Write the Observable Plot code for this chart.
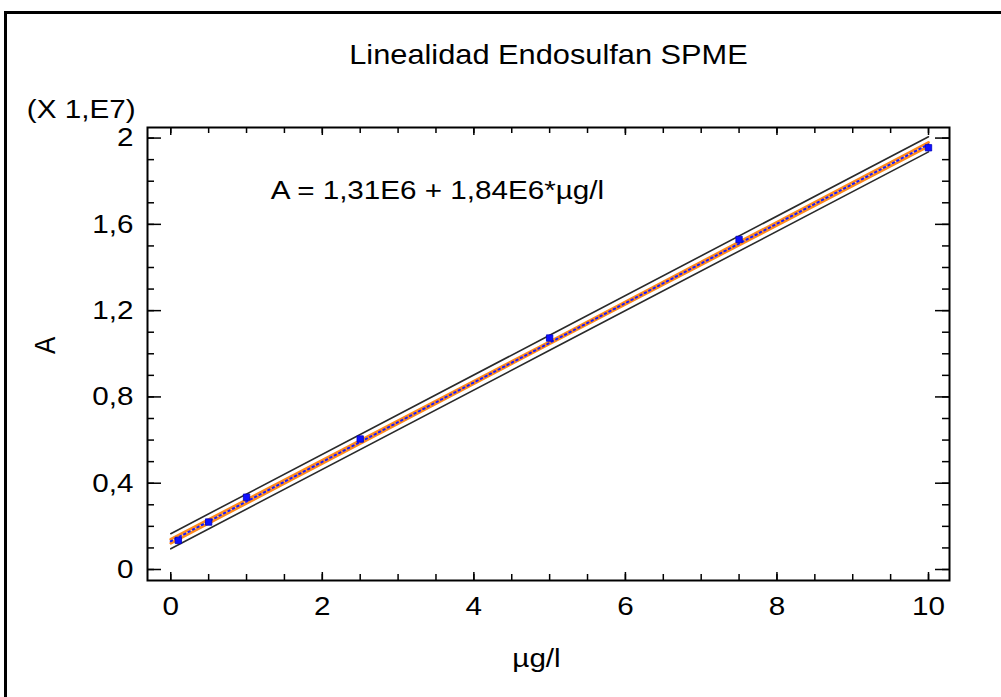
<!DOCTYPE html>
<html>
<head>
<meta charset="utf-8">
<script src="https://cdn.jsdelivr.net/npm/d3@7"></script>
<script src="https://cdn.jsdelivr.net/npm/@observablehq/plot@0.6"></script>
<style>
  html, body { margin: 0; padding: 0; background: #fff; overflow: hidden; }
  #wrap { position: relative; width: 1001px; height: 697px; }
  #border { position: absolute; left: 4px; top: 11px; width: 1100px; height: 800px;
            border-left: 3px solid #000; border-top: 3px solid #000; }
  #chart { position: absolute; left: 0; top: 0; }
</style>
</head>
<body>
<div id="wrap"><div id="border"></div><div id="chart"></div></div>
<script>
// ---- data (A in units of 1E7) ----
const conc = [0.1, 0.5, 1, 2.5, 5, 7.5, 10];                    // µg/l
const area = [0.135, 0.22, 0.335, 0.605, 1.073, 1.53, 1.955];   // A (X 1,E7)

// fitted line and limits read at x positions
const bandX      = [0, 5, 10];
const fitA       = [0.131, 1.051, 1.971];
const confUpper  = [0.140, 1.056, 1.980];
const confLower  = [0.122, 1.046, 1.962];
const predUpper  = [0.166, 1.086, 2.006];
const predLower  = [0.096, 1.016, 1.936];

// ticks
const xMajorTicks = [0, 2, 4, 6, 8, 10];
const xMinorTicks = [0, 0.5, 1, 1.5, 2, 2.5, 3, 3.5, 4, 4.5, 5, 5.5, 6, 6.5, 7, 7.5, 8, 8.5, 9, 9.5, 10];
const yMajorTicks = [0, 0.4, 0.8, 1.2, 1.6, 2];
const yMinorTicks = [0, 0.1, 0.2, 0.3, 0.4, 0.5, 0.6, 0.7, 0.8, 0.9, 1, 1.1, 1.2, 1.3, 1.4, 1.5, 1.6, 1.7, 1.8, 1.9, 2];

const titleText = "Linealidad Endosulfan SPME";
const equationText = "A = 1,31E6 + 1,84E6*µg/l";
const xLabel = "µg/l";
const yLabel = "A";
const yMultiplier = "(X 1,E7)";

// ---- build ----
const points = conc.map((c, i) => ({c, a: area[i]}));
const band = bandX.map((x, i) => ({x, fit: fitA[i], cu: confUpper[i], cl: confLower[i], pu: predUpper[i], pl: predLower[i]}));
const fmt = d => String(d).replace(".", ",");

const W = 1001, H = 697, mL = 147, mR = 52, mT = 127, mB = 117;
const plotW = W - mL - mR, plotH = H - mT - mB;
const FS = 26;
const STRETCH = 1.14;

const svg = Plot.plot({
  width: W, height: H,
  marginLeft: mL, marginRight: mR, marginTop: mT, marginBottom: mB,
  x: {domain: [-0.307, 10.277]},
  y: {domain: [-0.051, 2.049]},
  style: {fontFamily: "'Liberation Sans', Arial, sans-serif", fontSize: FS + "px", color: "#000", background: "transparent"},
  marks: [
    Plot.line(band, {x: "x", y: "pu", stroke: "#2a2a2a", strokeWidth: 1.6}),
    Plot.line(band, {x: "x", y: "pl", stroke: "#2a2a2a", strokeWidth: 1.6}),
    Plot.line(band, {x: "x", y: "cu", stroke: "#ff8a1c", strokeWidth: 2.8}),
    Plot.line(band, {x: "x", y: "cl", stroke: "#ff8a1c", strokeWidth: 2.8}),
    Plot.line(band, {x: "x", y: "fit", stroke: "#1a1aff", strokeWidth: 2, strokeDasharray: "1.5 3.5"}),
    Plot.dot(points, {x: "c", y: "a", symbol: "square", r: 3.6, fill: "#1010ff", stroke: "#0000c0", strokeWidth: 0.8}),
    Plot.frame({stroke: "#000", strokeWidth: 2}),
    // bottom & top ticks (inward)
    Plot.tickX(xMinorTicks, {x: d => d, insetTop: plotH - 6, stroke: "#000", strokeWidth: 1.5}),
    Plot.tickX(xMajorTicks, {x: d => d, insetTop: plotH - 8, stroke: "#000", strokeWidth: 1.5}),
    Plot.tickX(xMinorTicks, {x: d => d, insetBottom: plotH - 6, stroke: "#000", strokeWidth: 1.5}),
    Plot.tickX(xMajorTicks, {x: d => d, insetBottom: plotH - 8, stroke: "#000", strokeWidth: 1.5}),
    // left & right ticks (inward)
    Plot.tickY(yMinorTicks, {y: d => d, insetRight: plotW - 7, stroke: "#000", strokeWidth: 1.5}),
    Plot.tickY(yMajorTicks, {y: d => d, insetRight: plotW - 14, stroke: "#000", strokeWidth: 1.5}),
    Plot.tickY(yMinorTicks, {y: d => d, insetLeft: plotW - 7, stroke: "#000", strokeWidth: 1.5}),
    Plot.tickY(yMajorTicks, {y: d => d, insetLeft: plotW - 14, stroke: "#000", strokeWidth: 1.5}),
    Plot.axisX(xMajorTicks, {anchor: "bottom", tickSize: 0, tickPadding: 16, tickFormat: fmt, label: null, fontSize: FS}),
    Plot.axisY(yMajorTicks, {anchor: "left", tickSize: 0, tickPadding: 14, tickFormat: fmt, label: null, fontSize: FS}),
    Plot.text([equationText], {x: 1.32, y: 1.757, text: d => d, textAnchor: "start", fontSize: FS, fill: "#000"}),
    Plot.text([titleText], {frameAnchor: "top", dy: -72, lineAnchor: "middle", text: d => d, fontSize: 27, fill: "#000"}),
    Plot.text([yMultiplier], {frameAnchor: "top-left", dx: -12, dy: -18, lineAnchor: "middle", text: d => d, textAnchor: "end", fontSize: FS, fill: "#000"}),
    Plot.text([xLabel], {frameAnchor: "bottom", dx: -12, dy: 78, lineAnchor: "middle", text: d => d, fontSize: FS, fill: "#000"}),
    Plot.text([yLabel], {frameAnchor: "left", dx: -102, lineAnchor: "middle", rotate: -90, text: d => d, fontSize: 26, fill: "#000"})
  ]
});

// horizontal stretch of the text, as in the reference
svg.querySelectorAll("text").forEach(t => {
  const tr = t.getAttribute("transform") || "";
  if (tr.includes("rotate")) t.setAttribute("transform", tr + ` scale(1,${STRETCH})`);
  else t.setAttribute("transform", tr + ` scale(${STRETCH},1)`);
});

document.getElementById("chart").appendChild(svg);
</script>
</body>
</html>
